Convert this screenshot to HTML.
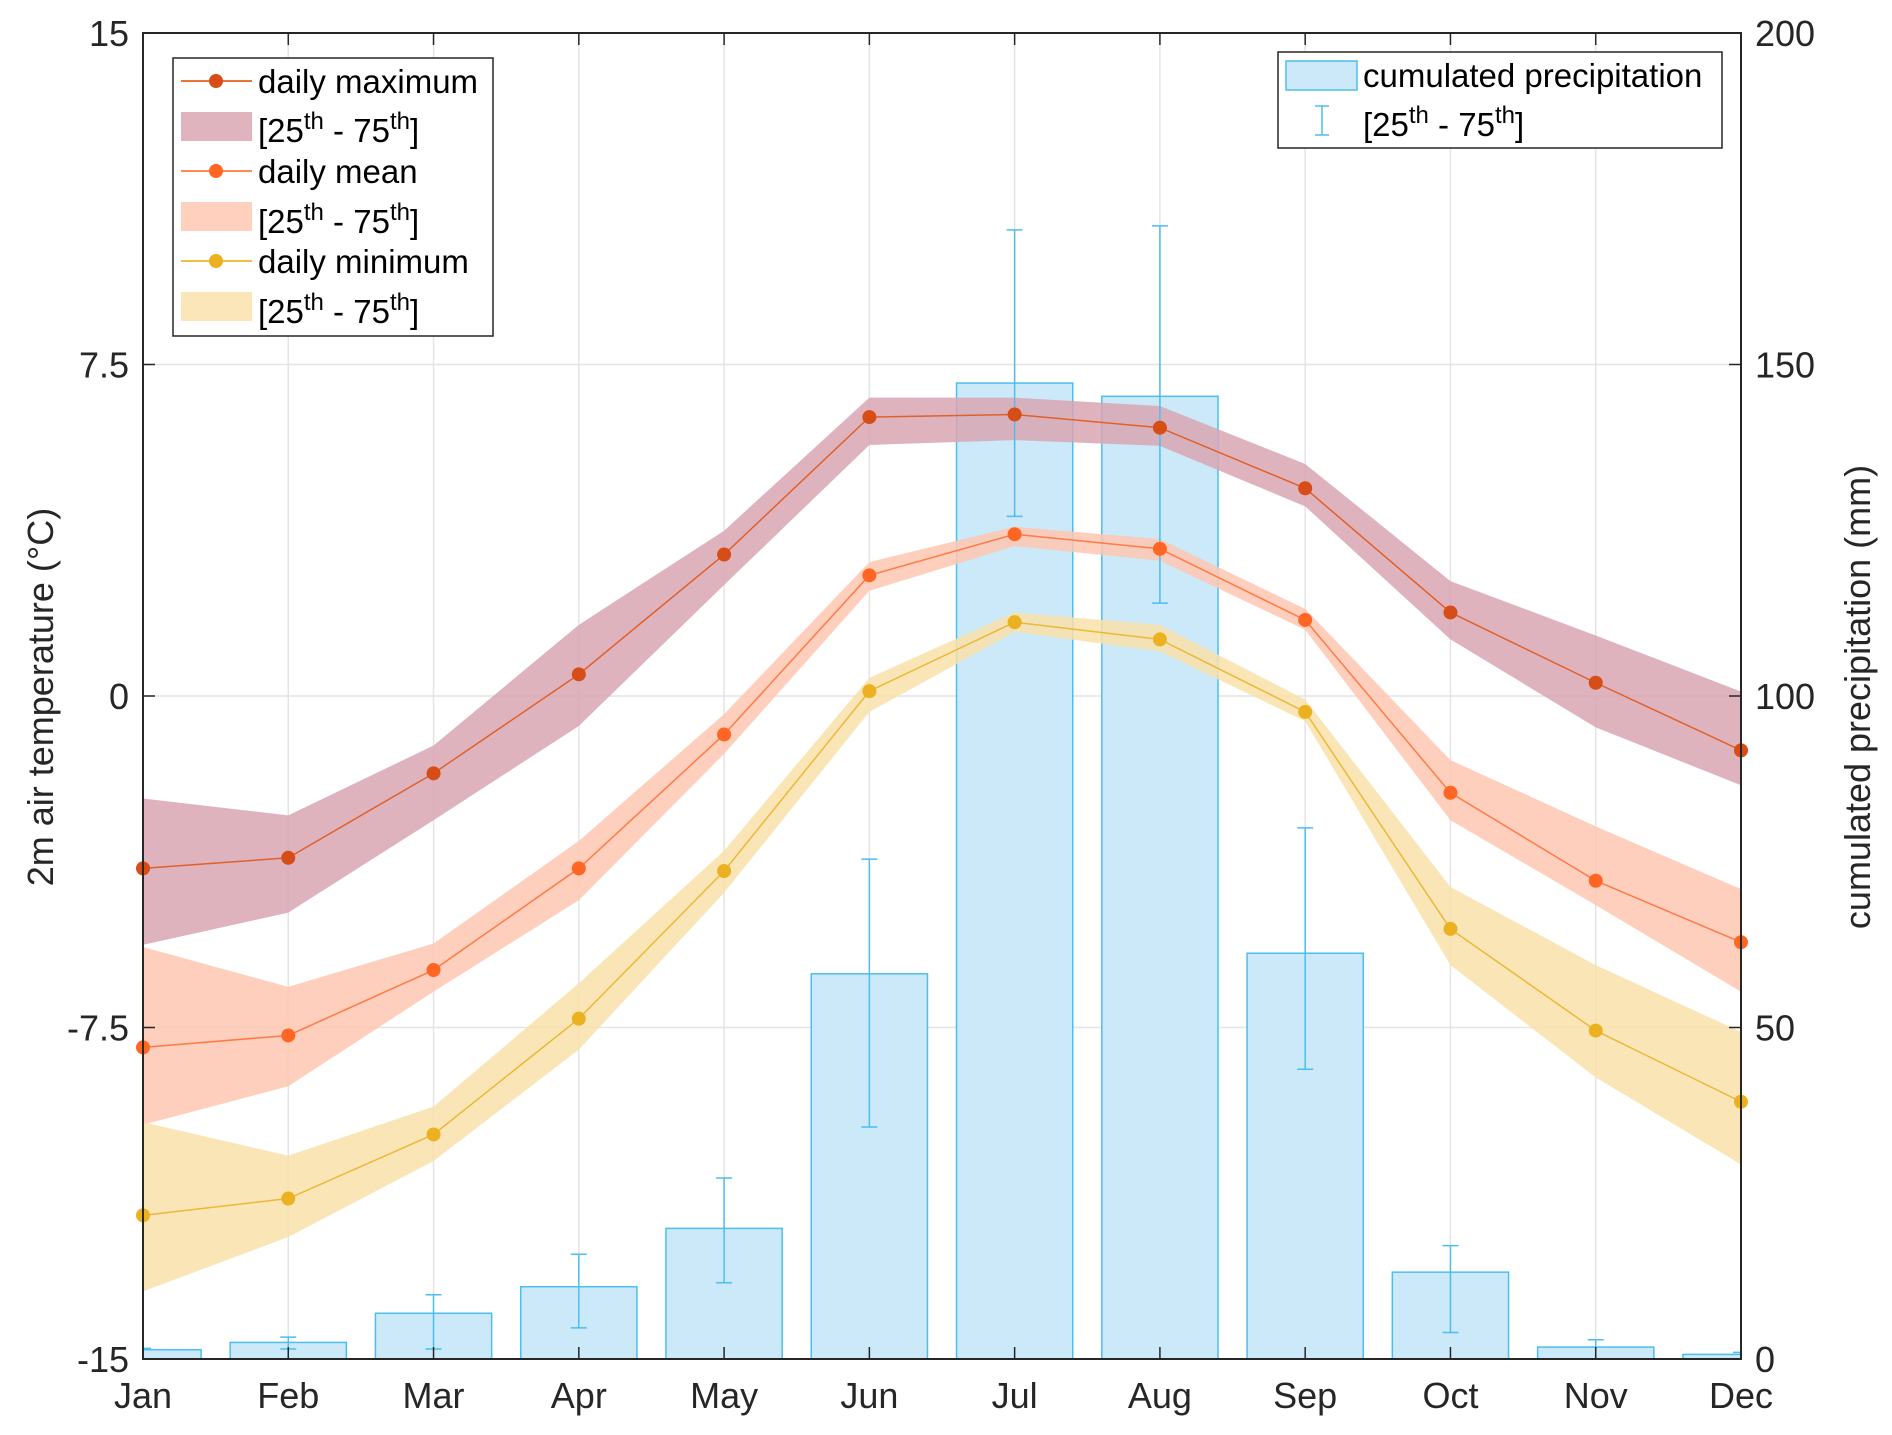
<!DOCTYPE html>
<html><head><meta charset="utf-8"><style>
html,body{margin:0;padding:0;background:#fff;}
svg{display:block;font-family:"Liberation Sans",Arial,sans-serif;}
</style></head><body>
<svg id="chart" width="1892" height="1435" viewBox="0 0 1892 1435" xmlns="http://www.w3.org/2000/svg">
<defs><clipPath id="clip"><rect x="143" y="33" width="1598" height="1326"/></clipPath></defs>
<g id="grid"></g>
<g id="bars" clip-path="url(#clip)"></g>
<g id="bands" clip-path="url(#clip)"></g>
<g id="errs" clip-path="url(#clip)"></g>
<g id="lines"></g>
<g id="axes"></g>
<text x="0" y="0" font-size="36" fill="#262626" text-anchor="middle" transform="translate(53,697) rotate(-90)">2m air temperature (°C)</text>
<text x="0" y="0" font-size="36" fill="#262626" text-anchor="middle" transform="translate(1870,697) rotate(-90)">cumulated precipitation (mm)</text>
<g>
<rect x="173" y="58" width="320" height="278" fill="#fff" stroke="#262626" stroke-width="1.5"/>
<line x1="181" y1="81" x2="252" y2="81" stroke="#e8743b" stroke-width="2"/><circle cx="216" cy="81" r="7" fill="#d64d17"/>
<text x="258" y="93" font-size="33" fill="#000">daily maximum</text>
<rect x="181" y="112" width="71" height="29" fill="#dfb4bf"/>
<text x="258" y="142" font-size="33" fill="#000">[25<tspan dy="-13" font-size="24">th</tspan><tspan dy="13"> - 75</tspan><tspan dy="-13" font-size="24">th</tspan><tspan dy="13">]</tspan></text>
<line x1="181" y1="171" x2="252" y2="171" stroke="#ff8a5a" stroke-width="2"/><circle cx="216" cy="171" r="7" fill="#ff6624"/>
<text x="258" y="183" font-size="33" fill="#000">daily mean</text>
<rect x="181" y="202" width="71" height="29" fill="#ffd0be"/>
<text x="258" y="233" font-size="33" fill="#000">[25<tspan dy="-13" font-size="24">th</tspan><tspan dy="13"> - 75</tspan><tspan dy="-13" font-size="24">th</tspan><tspan dy="13">]</tspan></text>
<line x1="181" y1="261" x2="252" y2="261" stroke="#f0c040" stroke-width="2"/><circle cx="216" cy="261" r="7" fill="#ecb120"/>
<text x="258" y="273" font-size="33" fill="#000">daily minimum</text>
<rect x="181" y="292" width="71" height="29" fill="#fbe6ba"/>
<text x="258" y="323" font-size="33" fill="#000">[25<tspan dy="-13" font-size="24">th</tspan><tspan dy="13"> - 75</tspan><tspan dy="-13" font-size="24">th</tspan><tspan dy="13">]</tspan></text>
</g>
<g>
<rect x="1278" y="52" width="444" height="96" fill="#fff" stroke="#262626" stroke-width="1.5"/>
<rect x="1286" y="61" width="71" height="29" fill="#cbe9f8" stroke="#4dbeee" stroke-width="1.5"/>
<text x="1363" y="87" font-size="33" fill="#000">cumulated precipitation</text>
<line x1="1322" y1="106" x2="1322" y2="135" stroke="#4dbeee" stroke-width="1.5"/>
<line x1="1315" y1="106" x2="1329" y2="106" stroke="#4dbeee" stroke-width="1.5"/>
<line x1="1315" y1="135" x2="1329" y2="135" stroke="#4dbeee" stroke-width="1.5"/>
<text x="1363" y="136" font-size="33" fill="#000">[25<tspan dy="-13" font-size="24">th</tspan><tspan dy="13"> - 75</tspan><tspan dy="-13" font-size="24">th</tspan><tspan dy="13">]</tspan></text>
</g>
</svg>
<script>
const months=["Jan","Feb","Mar","Apr","May","Jun","Jul","Aug","Sep","Oct","Nov","Dec"];
const tempTicks=[-15,-7.5,0,7.5,15];
const tempTickLabels=["-15","-7.5","0","7.5","15"];
const precipTicks=[0,50,100,150,200];
const tMax=[-3.9,-3.66,-1.75,0.49,3.2,6.31,6.37,6.07,4.7,1.89,0.3,-1.23];
const tMaxHi=[-2.32,-2.7,-1.12,1.61,3.74,6.75,6.75,6.56,5.25,2.6,1.37,0.1];
const tMaxLo=[-5.63,-4.9,-2.81,-0.68,2.51,5.68,5.79,5.66,4.29,1.28,-0.71,-2.02];
const tMean=[-7.95,-7.68,-6.2,-3.9,-0.87,2.73,3.66,3.33,1.72,-2.19,-4.18,-5.57];
const tMeanHi=[-5.68,-6.58,-5.6,-3.28,-0.41,3.03,3.83,3.55,1.97,-1.45,-2.95,-4.37];
const tMeanLo=[-9.7,-8.83,-6.69,-4.62,-1.31,2.38,3.39,3.06,1.5,-2.81,-4.73,-6.69];
const tMin=[-11.75,-11.37,-9.92,-7.3,-3.96,0.11,1.67,1.28,-0.36,-5.27,-7.57,-9.18];
const tMinHi=[-9.64,-10.4,-9.29,-6.5,-3.5,0.41,1.89,1.61,-0.08,-4.32,-6.09,-7.6];
const tMinLo=[-13.47,-12.24,-10.52,-8.0,-4.45,-0.36,1.45,1.01,-0.57,-6.09,-8.63,-10.6];
const precip=[1.4,2.5,6.9,10.9,19.7,58.1,147.2,145.2,61.2,13.1,1.8,0.7];
const precipHi=[1.6,3.3,9.7,15.8,27.3,75.4,170.3,170.9,80.1,17.1,2.9,1.0];
const precipLo=[0,1.5,1.5,4.7,11.5,35.0,127.1,114.0,43.7,4.0,0,0];

const L=143,R=1741,T=33,B=1359;
const x=i=>L+i*(R-L)/11;
const yT=v=>B-(v+15)/30*(B-T);
const yP=v=>B-v/200*(B-T);
const NS="http://www.w3.org/2000/svg";
function mk(tag,attrs,parent){const e=document.createElementNS(NS,tag);for(const k in attrs)e.setAttribute(k,attrs[k]);parent.appendChild(e);return e;}
const grid=document.getElementById('grid'),bars=document.getElementById('bars'),bands=document.getElementById('bands'),errs=document.getElementById('errs'),lines=document.getElementById('lines'),axes=document.getElementById('axes');
months.forEach((m,i)=>{const g=mk('line',{x1:x(i),x2:x(i),y1:T,y2:B,stroke:'#e4e4e4','stroke-width':1.5},grid);

});
tempTicks.forEach(v=>{const g=mk('line',{x1:L,x2:R,y1:yT(v),y2:yT(v),stroke:'#e4e4e4','stroke-width':1.5},grid);

});
const bw=0.8*(R-L)/11;
precip.forEach((v,i)=>{const r=mk('rect',{x:x(i)-bw/2,y:yP(v),width:bw,height:B-yP(v),fill:'#cbe9f8',stroke:'#4dbeee','stroke-width':1.5},bars);

});
function band(hi,lo,fill,name){let d='M'+hi.map((v,i)=>x(i)+','+yT(v)).join(' L')+' L'+lo.map((v,i)=>x(i)+','+yT(v)).reverse().join(' L')+' Z';
const p=mk('path',{d:d,fill:fill,'fill-opacity':0.85},bands);

}
band(tMaxHi,tMaxLo,'#d9a6b3','max-band');
band(tMeanHi,tMeanLo,'#ffc7b1','mean-band');
band(tMinHi,tMinLo,'#f9e0aa','min-band');
precip.forEach((v,i)=>{const g=mk('g',{stroke:'#4dbeee','stroke-width':1.5},errs);


const a=yP(precipHi[i]),b=yP(precipLo[i]);mk('line',{x1:x(i),x2:x(i),y1:a,y2:b},g);mk('line',{x1:x(i)-8,x2:x(i)+8,y1:a,y2:a},g);mk('line',{x1:x(i)-8,x2:x(i)+8,y1:b,y2:b},g);});
function series(vals,lc,mc,name){const l=mk('polyline',{points:vals.map((v,i)=>x(i)+','+yT(v)).join(' '),fill:'none',stroke:lc,'stroke-width':1.5},lines);


vals.forEach((v,i)=>{const c=mk('circle',{cx:x(i),cy:yT(v),r:7,fill:mc},lines);

});}
series(tMax,'#e0602a','#d64d17','daily-max');
series(tMean,'#ff7a45','#ff6624','daily-mean');
series(tMin,'#edb838','#ecb120','daily-min');
mk('rect',{x:L,y:T,width:R-L,height:B-T,fill:'none',stroke:'#262626','stroke-width':2},axes);
months.forEach((m,i)=>{mk('line',{x1:x(i),x2:x(i),y1:B,y2:B-12,stroke:'#262626','stroke-width':1.5},axes);mk('line',{x1:x(i),x2:x(i),y1:T,y2:T+12,stroke:'#262626','stroke-width':1.5},axes);
const t=mk('text',{x:x(i),y:1408,'font-size':36,fill:'#262626','text-anchor':'middle'},axes);t.textContent=m;

});
tempTicks.forEach((v,i)=>{mk('line',{x1:L,x2:L+12,y1:yT(v),y2:yT(v),stroke:'#262626','stroke-width':1.5},axes);
const t=mk('text',{x:129,y:yT(v)+13,'font-size':36,fill:'#262626','text-anchor':'end'},axes);t.textContent=tempTickLabels[i];

});
precipTicks.forEach(v=>{mk('line',{x1:R-12,x2:R,y1:yP(v),y2:yP(v),stroke:'#262626','stroke-width':1.5},axes);
const t=mk('text',{x:1755,y:yP(v)+13,'font-size':36,fill:'#262626','text-anchor':'start'},axes);t.textContent=String(v);

});
</script>
</body></html>
